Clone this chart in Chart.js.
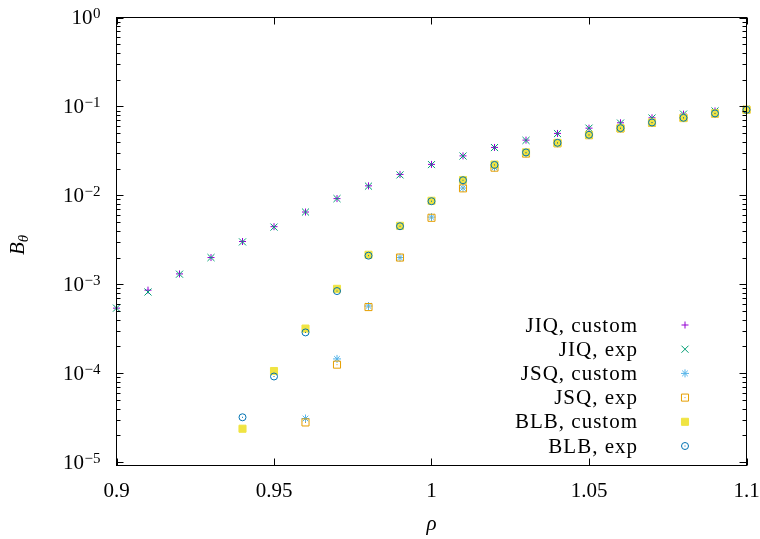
<!DOCTYPE html>
<html>
<head>
<meta charset="utf-8">
<script src="https://cdn.jsdelivr.net/npm/chart.js@4.4.0/dist/chart.umd.min.js"></script>
<style>
html, body { margin: 0; padding: 0; background: #fff; }
</style>
</head>
<body>
<canvas id="myChart" width="760" height="539"></canvas>
<script>
const ctx = document.getElementById('myChart');

// rho values, 0.90 .. 1.10
const rho = [0.90, 0.91, 0.92, 0.93, 0.94, 0.95, 0.96, 0.97, 0.98, 0.99, 1.00,
    1.01, 1.02, 1.03, 1.04, 1.05, 1.06, 1.07, 1.08, 1.09, 1.10];

const jiqCustom = [5.4e-4, 8.6e-4, 1.31e-3, 2.0e-3, 3.03e-3, 4.45e-3, 6.5e-3, 9.2e-3, 1.28e-2, 1.72e-2, 2.23e-2,
    2.78e-2, 3.46e-2, 4.18e-2, 4.97e-2, 5.7e-2, 6.55e-2, 7.45e-2, 8.2e-2, 8.9e-2, 9.35e-2];
const jiqExp = [5.4e-4, 8.2e-4, 1.3e-3, 2.0e-3, 3.0e-3, 4.4e-3, 6.5e-3, 9.2e-3, 1.27e-2, 1.7e-2, 2.22e-2,
    2.77e-2, 3.45e-2, 4.15e-2, 4.95e-2, 5.7e-2, 6.5e-2, 7.4e-2, 8.2e-2, 8.9e-2, 9.3e-2];
const jsqCustom = [null, null, null, null, null, null, 3.1e-5, 1.45e-4, 5.7e-4, 2.0e-3, 5.7e-3,
    1.21e-2, 2.06e-2, 2.97e-2, 3.85e-2, 4.75e-2, 5.65e-2, 6.55e-2, 7.4e-2, 8.3e-2, 9.15e-2];
const jsqExp = [null, null, null, null, null, null, 2.8e-5, 1.25e-4, 5.55e-4, 2.0e-3, 5.6e-3,
    1.2e-2, 2.05e-2, 2.95e-2, 3.85e-2, 4.75e-2, 5.65e-2, 6.55e-2, 7.4e-2, 8.3e-2, 9.15e-2];
const blbCustom = [null, null, null, null, 2.38e-5, 1.06e-4, 3.18e-4, 8.9e-4, 2.15e-3, 4.55e-3, 8.7e-3,
    1.49e-2, 2.22e-2, 3.05e-2, 3.9e-2, 4.8e-2, 5.7e-2, 6.6e-2, 7.45e-2, 8.35e-2, 9.2e-2];
const blbExp = [null, null, null, null, 3.2e-5, 9.2e-5, 2.88e-4, 8.4e-4, 2.1e-3, 4.5e-3, 8.6e-3,
    1.48e-2, 2.2e-2, 3.04e-2, 3.9e-2, 4.8e-2, 5.7e-2, 6.6e-2, 7.45e-2, 8.35e-2, 9.17e-2];

const seriesNames = ['JIQ, custom', 'JIQ, exp', 'JSQ, custom', 'JSQ, exp', 'BLB, custom', 'BLB, exp'];
const seriesValues = [jiqCustom, jiqExp, jsqCustom, jsqExp, blbCustom, blbExp];
const seriesColors = ['#9400d3', '#009e73', '#56b4e9', '#e69f00', '#f0e442', '#0072b2'];

const xTicks = [0.9, 0.95, 1, 1.05, 1.1];
const yTickExp = [0, -1, -2, -3, -4, -5];

const FONT = '"Liberation Serif", "DejaVu Serif", serif';

// gnuplot-ish point types
const styles = [
    { pointStyle: 'cross', radius: 3.5, fill: false },
    { pointStyle: 'crossRot', radius: 5, fill: false },
    { pointStyle: 'star', radius: 4, fill: false },
    { pointStyle: 'rect', radius: 5, fill: false, dot: true },
    { pointStyle: 'rect', radius: 5, fill: true },
    { pointStyle: 'circle', radius: 3.5, fill: false, dot: true },
];

const toPoints = vals => rho.map((x, i) => ({ x: x, y: vals[i] })).filter(p => p.y !== null);

const datasets = seriesValues.map((vals, i) => ({
    label: seriesNames[i],
    data: toPoints(vals),
    showLine: false,
    pointStyle: styles[i].pointStyle,
    pointRadius: styles[i].radius,
    pointHoverRadius: styles[i].radius,
    pointBorderWidth: 1,
    borderColor: seriesColors[i],
    backgroundColor: styles[i].fill ? seriesColors[i] : 'rgba(0,0,0,0)',
    order: seriesValues.length - i, // last one on top, like gnuplot
    clip: false,
}));

const supMinus = s => s.replace('-', '\u2212');

// frame, inward ticks, y labels, axis titles, legend
const decorations = {
    id: 'decorations',
    afterDatasetsDraw(chart) {
        const c = chart.ctx;
        const a = chart.chartArea;
        const xs = chart.scales.x, ys = chart.scales.y;

        // centre dots of open square / circle
        chart.data.datasets.forEach((ds, i) => {
            if (!styles[i].dot) return;
            c.fillStyle = seriesColors[i];
            chart.getDatasetMeta(i).data.forEach(pt => {
                c.fillRect(pt.x - 0.5, pt.y - 0.5, 1, 1);
            });
        });

        c.save();
        c.strokeStyle = '#000';
        c.lineWidth = 1;
        c.beginPath();
        // y ticks, major + minor, both sides
        for (let e = -5; e <= 0; e++) {
            for (let m = 1; m <= 9; m++) {
                const v = m * Math.pow(10, e);
                if (v > 1.0001 || v < ys.min) continue;
                const y = Math.round(ys.getPixelForValue(v)) + 0.5;
                const len = m === 1 ? 7 : 4;
                c.moveTo(a.left, y); c.lineTo(a.left + len, y);
                c.moveTo(a.right, y); c.lineTo(a.right - len, y);
            }
        }
        // x ticks, bottom + top
        xTicks.forEach(v => {
            const x = Math.round(xs.getPixelForValue(v)) + 0.5;
            c.moveTo(x, a.bottom); c.lineTo(x, a.bottom - 7);
            c.moveTo(x, a.top); c.lineTo(x, a.top + 7);
        });
        c.stroke();
        c.strokeRect(a.left, a.top, a.right - a.left, a.bottom - a.top);

        // y tick labels 10^e
        c.fillStyle = '#000';
        yTickExp.forEach(e => {
            const y = ys.getPixelForValue(Math.pow(10, e));
            const ex = supMinus(String(e));
            c.font = '15px ' + FONT;
            const w2 = c.measureText(ex).width;
            c.font = '21px ' + FONT;
            const w1 = c.measureText('10').width;
            const x0 = 100 - w1 - w2;
            c.textAlign = 'left';
            c.textBaseline = 'middle';
            c.fillText('10', x0, y + 1);
            c.font = '15px ' + FONT;
            c.textBaseline = 'alphabetic';
            c.fillText(ex, x0 + w1 + 0.5, y + 0.5);
        });

        // axis titles
        c.font = 'italic 21px ' + FONT;
        c.textAlign = 'center';
        c.textBaseline = 'middle';
        c.fillText('\u03c1', (a.left + a.right) / 2, 524);

        c.save();
        c.translate(17, 244);
        c.rotate(-Math.PI / 2);
        c.textAlign = 'left';
        c.textBaseline = 'alphabetic';
        c.font = 'italic 21px ' + FONT;
        const wb = c.measureText('B').width;
        c.fillText('B', -11, 7);
        c.font = 'italic 15px ' + FONT;
        c.fillText('\u03b8', -11 + wb, 11);
        c.restore();

        // legend, text right aligned then sample
        c.font = '21px ' + FONT;
        c.letterSpacing = '1px';
        c.textAlign = 'right';
        c.textBaseline = 'middle';
        chart.data.datasets.forEach((ds, i) => {
            const y = 325 + i * 24.2;
            c.fillStyle = '#000';
            c.fillText(ds.label, 638, y + 1);
            c.strokeStyle = seriesColors[i];
            c.fillStyle = styles[i].fill ? seriesColors[i] : 'rgba(0,0,0,0)';
            c.lineWidth = 1;
            Chart.helpers.drawPoint(c, { pointStyle: styles[i].pointStyle, radius: styles[i].radius, borderWidth: 1, rotation: 0 }, 685, y);
            if (styles[i].dot) {
                c.fillStyle = seriesColors[i];
                c.fillRect(684.5, y - 0.5, 1, 1);
            }
        });
        c.letterSpacing = '0px';
        c.restore();
    }
};

const chart = new Chart(ctx, {
    type: 'scatter',
    data: { datasets: datasets },
    plugins: [decorations],
    options: {
        responsive: false,
        devicePixelRatio: 1,
        animation: false,
        layout: { padding: { left: 0, right: 13.5, top: 17.5, bottom: 0 } },
        plugins: {
            legend: { display: false },
            tooltip: { enabled: false },
        },
        scales: {
            x: {
                type: 'linear',
                min: 0.9,
                max: 1.1,
                afterBuildTicks: s => { s.ticks = xTicks.map(v => ({ value: v })); },
                afterFit: s => { s.height = 73.5; s.paddingLeft = 0; s.paddingRight = 0; },
                grid: { display: false, drawTicks: false },
                border: { display: false },
                ticks: {
                    padding: 13,
                    color: '#000',
                    font: { family: FONT, size: 21 },
                    maxRotation: 0,
                    callback: v => String(+v.toFixed(2)),
                },
            },
            y: {
                type: 'logarithmic',
                min: Math.pow(10, -5.037),
                max: 1,
                afterFit: s => { s.width = 116.5; s.paddingTop = 0; s.paddingBottom = 0; },
                grid: { display: false, drawTicks: false },
                border: { display: false },
                ticks: { display: false },
            },
        },
    },
});
</script>
</body>
</html>
